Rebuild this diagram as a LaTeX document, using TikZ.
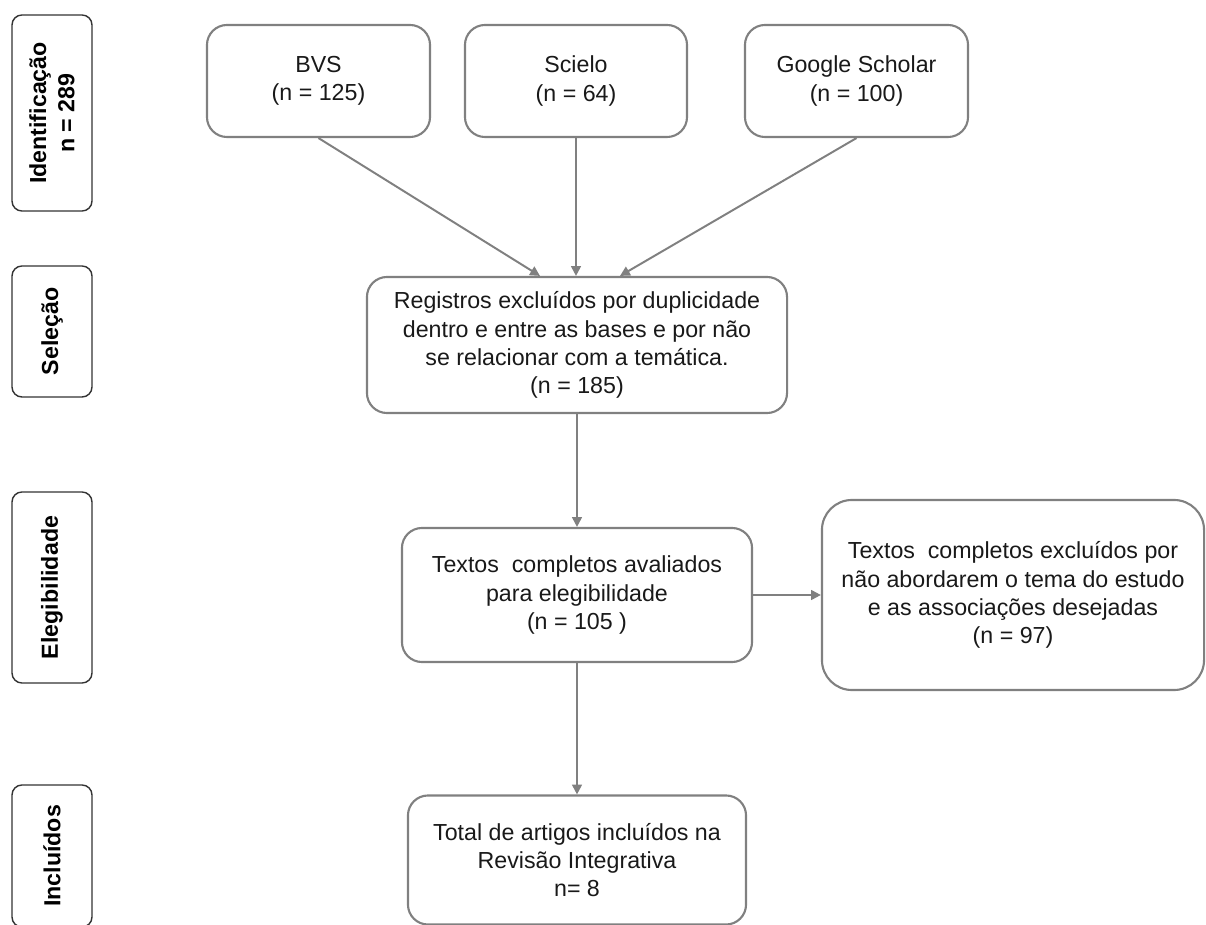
\documentclass[tikz,border=0pt]{standalone}
\usepackage{fontspec}
\setmainfont{Liberation Sans}
\usetikzlibrary{arrows.meta}
\definecolor{cinza}{RGB}{128,128,128}

\begin{document}
\begin{tikzpicture}[
  x=0.025cm, y=-0.025cm,
  font=\fontsize{16.5}{20}\selectfont,
  >={Triangle[length=7pt,width=7pt]},
  caixa/.style={draw=cinza,line width=1.5pt,rounded corners=0.5cm,align=center,text=black!90,inner sep=0pt},
  fase/.style={draw=black!80,line width=1pt,rounded corners=0.25cm,rotate=90,align=center,
    font=\fontsize{16.5}{20}\selectfont\bfseries,inner sep=0pt,minimum height=2cm},
  seta/.style={->,draw=cinza,line width=1.4pt}
]

% margens da figura (unidade = 1 pixel da imagem)
\useasboundingbox (0,0) rectangle (1206,925);

% --- fases (coluna da esquerda) ---
\node[fase,minimum width=4.9cm]   (ident) at (52,113)   {Identificação\\n = 289};
\node[fase,minimum width=3.275cm] (selec) at (52,331.5) {Seleção};
\node[fase,minimum width=4.775cm] (eleg)  at (52,587.5) {Elegibilidade};
\node[fase,minimum width=3.55cm]  (incl)  at (52,856)   {Incluídos};

% --- bases de dados ---
\node[caixa,minimum width=5.575cm,minimum height=2.8cm] (bvs) at (318.5,81) {BVS\\(n = 125)};
\node[caixa,minimum width=5.55cm,minimum height=2.8cm]  (sci) at (576,81)   {Scielo\\(n = 64)};
\node[caixa,minimum width=5.575cm,minimum height=2.8cm] (gs)  at (856.5,81) {Google Scholar\\(n = 100)};

% --- etapas ---
\node[caixa,minimum width=10.5cm,minimum height=3.4cm] (reg) at (577,345)
  {Registros excluídos por duplicidade\\dentro e entre as bases e por não\\se relacionar com a temática.\\(n = 185)};
\node[caixa,minimum width=8.75cm,minimum height=3.35cm] (aval) at (577,595)
  {Textos\ \ completos avaliados\\para elegibilidade\\(n = 105 )};
\node[caixa,minimum width=9.55cm,minimum height=4.75cm,rounded corners=0.75cm] (excl) at (1013,595)
  {Textos\ \ completos excluídos por\\não abordarem o tema do estudo\\e as associações desejadas\\(n = 97)};
\node[caixa,minimum width=8.45cm,minimum height=3.225cm] (total) at (577,860)
  {Total de artigos incluídos na\\Revisão Integrativa\\n= 8};

% --- setas ---
\draw[seta] (bvs.south) -- ([xshift=-0.925cm]reg.north);
\draw[seta] (sci.south) -- (sci.south |- reg.north);
\draw[seta] (gs.south)  -- ([xshift=1.075cm]reg.north);
\draw[seta] (reg) -- (aval);
\draw[seta] (aval) -- (excl);
\draw[seta] (aval) -- (total);

\end{tikzpicture}
\end{document}
